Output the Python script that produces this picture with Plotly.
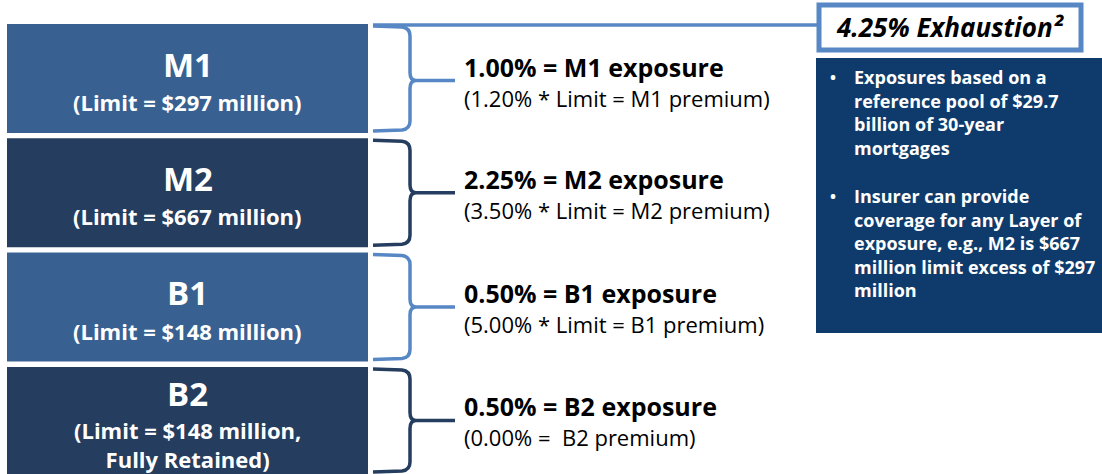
import plotly.graph_objects as go

# Risk-layer structure of the reference pool
layers = ["M1", "M2", "B1", "B2"]
limits_musd = [297, 667, 148, 148]
exposure_pct = [1.00, 2.25, 0.50, 0.50]
premium_rate_pct = [1.20, 3.50, 5.00, 0.00]
fully_retained = [False, False, False, True]
exhaustion_pct = 4.25
exhaustion_note = "²"

bullet_lines = [
    ["Exposures based on a", "reference pool of $29.7", "billion of 30-year", "mortgages"],
    ["Insurer can provide", "coverage for any Layer of", "exposure, e.g., M2 is $667",
     "million limit excess of $297", "million"],
]

W, H = 1102, 474
FONT = "'Open Sans', Lato, sans-serif"
LIGHT_BOX = "#386192"
DARK_BOX = "#253d5e"
LIGHT_LINE = "#5787c4"
INFO_BG = "#0e3b6c"

fig = go.Figure()
shapes = []
annotations = []

box_x0, box_x1 = 7, 368
row_top0, row_step, row_h = 24, 114.3, 109

for i, name in enumerate(layers):
    top = row_top0 + i * row_step
    bot = top + row_h if i < len(layers) - 1 else H + 2
    fill = LIGHT_BOX if i % 2 == 0 else DARK_BOX
    shapes.append(dict(type="rect", x0=box_x0, x1=box_x1, y0=top, y1=bot,
                       fillcolor=fill, line=dict(width=0), layer="below"))

    # layer label inside the box
    if fully_retained[i]:
        sub = f"<b>(Limit = ${limits_musd[i]} million,<br>Fully Retained)</b>"
        name_y, sub_y = top + 27, top + 78
    else:
        sub = f"<b>(Limit = ${limits_musd[i]} million)</b>"
        name_y, sub_y = top + 40, top + 78
    cx = (box_x0 + box_x1) / 2
    annotations.append(dict(x=cx, y=name_y, text=f"<b>{name}</b>", showarrow=False,
                            font=dict(family=FONT, size=33, color="white"),
                            xanchor="center", yanchor="middle"))
    annotations.append(dict(x=cx, y=sub_y, text=sub, showarrow=False,
                            font=dict(family=FONT, size=22, color="white"),
                            xanchor="center", yanchor="middle"))

    # curly brace beside the box
    yt, yb = top + 2, min(bot, H) - 2
    ym = (yt + yb) / 2 + (2 if i == 0 else 0)
    bx, ex, tip = 373, 410, 455
    path = (f"M {bx},{yt} L {ex - 8},{yt + 1} Q {ex},{yt + 2} {ex},{yt + 10} "
            f"L {ex},{ym - 8} Q {ex},{ym} {ex + 6},{ym} L {tip},{ym} "
            f"M {ex + 6},{ym} Q {ex},{ym} {ex},{ym + 8} "
            f"L {ex},{yb - 10} Q {ex},{yb - 2} {ex - 8},{yb - 1} L {bx},{yb}")
    shapes.append(dict(type="path", path=path,
                       line=dict(color=LIGHT_LINE if i % 2 == 0 else DARK_BOX, width=3.5)))

    # exposure and premium description
    line1 = f"<b>{exposure_pct[i]:.2f}% = {name} exposure</b>"
    if fully_retained[i]:
        line2 = f"({premium_rate_pct[i]:.2f}% =  {name} premium)"
    else:
        line2 = f"({premium_rate_pct[i]:.2f}% * Limit = {name} premium)"
    annotations.append(dict(x=462, y=ym - 14, text=line1, showarrow=False,
                            font=dict(family=FONT, size=25, color="black"),
                            xanchor="left", yanchor="middle"))
    annotations.append(dict(x=462, y=ym + 17, text=line2, showarrow=False,
                            font=dict(family=FONT, size=22, color="black"),
                            xanchor="left", yanchor="middle"))

# connector from the top of the first layer to the exhaustion point
shapes.append(dict(type="line", x0=373, x1=818, y0=25, y1=25,
                   line=dict(color=LIGHT_LINE, width=3.5)))

# exhaustion label box
shapes.append(dict(type="rect", x0=819, x1=1081, y0=5, y1=50,
                   fillcolor="white", line=dict(color=LIGHT_LINE, width=5)))
annotations.append(dict(x=950, y=27,
                        text=f"<b><i>{exhaustion_pct:.2f}% Exhaustion{exhaustion_note}</i></b>",
                        showarrow=False, font=dict(family=FONT, size=26, color="black"),
                        xanchor="center", yanchor="middle"))

# notes panel
shapes.append(dict(type="rect", x0=816, x1=W + 2, y0=58, y1=333,
                   fillcolor=INFO_BG, line=dict(width=0), layer="below"))
para_y = [77, 196]
for p, lines in enumerate(bullet_lines):
    annotations.append(dict(x=833, y=para_y[p], text="<b>•</b>", showarrow=False,
                            font=dict(family=FONT, size=16, color="white"),
                            xanchor="center", yanchor="middle"))
    for j, ln in enumerate(lines):
        annotations.append(dict(x=852, y=para_y[p] + j * 23.6, text=f"<b>{ln}</b>",
                                showarrow=False, font=dict(family=FONT, size=18, color="white"),
                                xanchor="left", yanchor="middle"))

fig.update_layout(
    width=W, height=H,
    margin=dict(l=0, r=0, t=0, b=0),
    paper_bgcolor="white", plot_bgcolor="white",
    xaxis=dict(range=[0, W], visible=False, fixedrange=True),
    yaxis=dict(range=[H, 0], visible=False, fixedrange=True),
    shapes=shapes, annotations=annotations, showlegend=False,
)
fig.write_html("out.html")
